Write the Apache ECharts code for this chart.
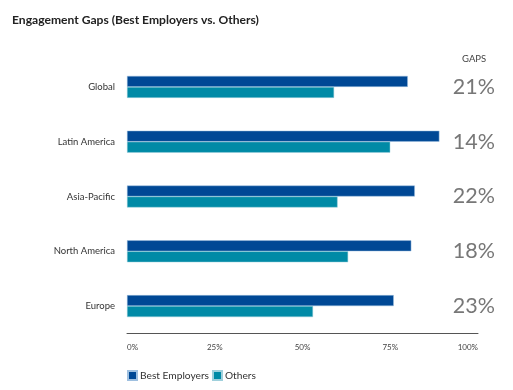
<!DOCTYPE html>
<html>
<head>
<meta charset="utf-8">
<script src="https://cdn.jsdelivr.net/npm/echarts@6/dist/echarts.min.js"></script>
<style>html,body{margin:0;padding:0;background:#fff}#c{width:513px;height:390px}</style>
</head>
<body>
<div id="c"></div>
<script>
const categories = ['Global', 'Latin America', 'Asia-Pacific', 'North America', 'Europe'];
const bestEmployers = [80, 89, 82, 81, 76];
const others = [59, 75, 60, 63, 53];
const gaps = ['21%', '14%', '22%', '18%', '23%'];
const xTicks = ['0%', '25%', '50%', '75%', '100%'];

const font = "Lato, 'Open Sans', sans-serif";
const chart = echarts.init(document.getElementById('c'), null, {renderer: 'canvas'});
chart.setOption({
  animation: false,
  title: [
    {text: 'Engagement Gaps (Best Employers vs. Others)', left: 7, top: 9,
     textStyle: {fontFamily: font, fontSize: 12.1, fontWeight: 'bold', color: '#222'}},
    {text: 'GAPS', left: 457, top: 49,
     textStyle: {fontFamily: font, fontSize: 9.5, fontWeight: 'normal', color: '#444'}}
  ],
  legend: {
    left: 122, top: 365, itemWidth: 9, itemHeight: 9, itemGap: 3,
    icon: 'rect',
    textStyle: {fontFamily: font, fontSize: 10.2, color: '#333', padding: [0, 0, 0, -2]},
    data: ['Best Employers', 'Others']
  },
  grid: {left: 127, right: 35, top: 59.5, height: 274, containLabel: false},
  xAxis: {
    type: 'value', min: 0, max: 100, interval: 25,
    axisLine: {show: true, lineStyle: {color: '#555', width: 1}},
    axisTick: {show: false},
    splitLine: {show: false},
    axisLabel: {
      fontFamily: font, fontSize: 8, color: '#444', margin: 10,
      formatter: (v) => xTicks[v / 25],
      alignMinLabel: 'left', alignMaxLabel: 'right'
    }
  },
  yAxis: [
    {
      type: 'category', data: categories, inverse: true,
      axisLine: {show: false}, axisTick: {show: false},
      axisLabel: {fontFamily: font, fontSize: 9.5, color: '#333', margin: 12}
    },
    {
      type: 'category', data: gaps, inverse: true, position: 'right',
      axisLine: {show: false}, axisTick: {show: false},
      axisLabel: {fontFamily: font, fontSize: 21.5, color: '#777', align: 'right', margin: 17}
    }
  ],
  series: [
    {name: 'Best Employers', type: 'bar', data: bestEmployers, barWidth: 11, barGap: '0%',
     itemStyle: {color: '#004895', borderColor: '#9fc0e0', borderWidth: 0.5}},
    {name: 'Others', type: 'bar', data: others, barWidth: 11, barGap: '0%',
     itemStyle: {color: '#008aa6', borderColor: '#9fd0dc', borderWidth: 0.5}}
  ]
});
</script>
</body>
</html>
